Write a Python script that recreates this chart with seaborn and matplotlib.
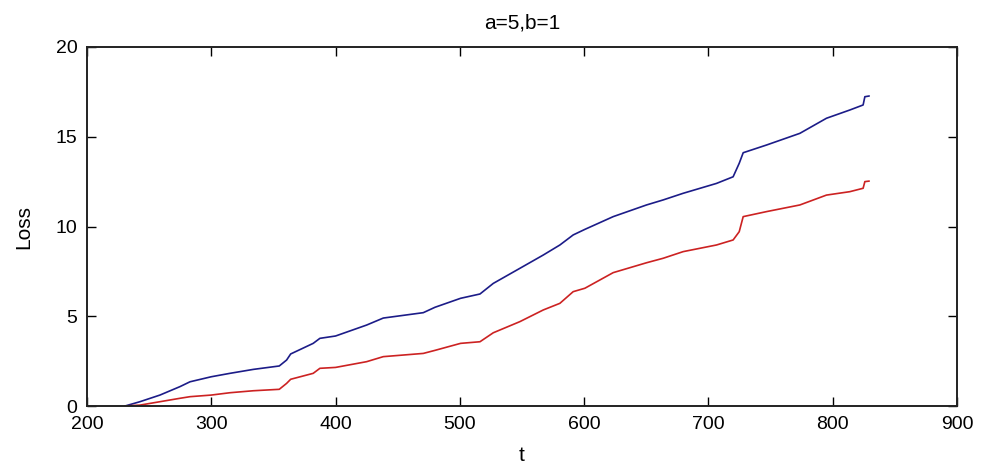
import matplotlib
matplotlib.use("Agg")
import matplotlib.pyplot as plt
import seaborn as sns
import pandas as pd

t_blue = [230.6, 242.6, 258.7, 274.8, 282.9, 300, 315, 333.8, 354.7, 360.6, 363.9, 382, 387.4, 400,
          425, 438.4, 470.6, 480, 500.6, 516.2, 526.9, 548.3, 567.1, 580.5, 591.2, 600.6, 623.4,
          650.2, 663.6, 679.7, 706.5, 719.9, 724.8, 728, 746.8, 773.6, 795, 813.8, 824.5, 825.9, 829.4]
loss_blue = [0, 0.24, 0.61, 1.08, 1.35, 1.63, 1.82, 2.04, 2.23, 2.56, 2.9, 3.49, 3.77, 3.9,
             4.51, 4.9, 5.2, 5.5, 6.0, 6.24, 6.83, 7.67, 8.41, 8.97, 9.53, 9.84, 10.55,
             11.2, 11.48, 11.85, 12.4, 12.77, 13.52, 14.11, 14.54, 15.19, 16.03, 16.49, 16.77, 17.23, 17.27]

t_red = [230.6, 242.6, 258.7, 274.8, 282.9, 300, 315, 333.8, 354.7, 360.6, 363.9, 382, 387.4, 400,
         425, 438.4, 470.6, 480, 500.6, 516.2, 526.9, 548.3, 567.1, 580.5, 591.2, 600.6, 623.4,
         650.2, 663.6, 679.7, 706.5, 719.9, 724.8, 728, 746.8, 773.6, 795, 813.8, 824.5, 825.9, 829.4]
loss_red = [0, 0.05, 0.24, 0.43, 0.52, 0.61, 0.74, 0.85, 0.93, 1.26, 1.49, 1.82, 2.1, 2.15,
            2.47, 2.75, 2.93, 3.1, 3.49, 3.58, 4.08, 4.7, 5.35, 5.72, 6.37, 6.56, 7.43,
            7.98, 8.23, 8.6, 8.97, 9.25, 9.71, 10.55, 10.83, 11.2, 11.75, 11.94, 12.13, 12.5, 12.53]

x_ticks = [200, 300, 400, 500, 600, 700, 800, 900]
y_ticks = [0, 5, 10, 15, 20]
title = "a=5,b=1"

sns.set_theme(style="ticks")
plt.rcParams['font.family'] = ['Liberation Sans', 'DejaVu Sans']
plt.rcParams['text.color'] = 'black'
plt.rcParams['axes.labelcolor'] = 'black'

fig = plt.figure(figsize=(9.83, 4.69), dpi=100)
ax = fig.add_axes([0.0885, 0.1343, 0.885, 0.7655])

df_b = pd.DataFrame({"t": t_blue, "Loss": loss_blue})
df_r = pd.DataFrame({"t": t_red, "Loss": loss_red})
sns.lineplot(data=df_b, x="t", y="Loss", ax=ax, color="#1c1c88", linewidth=1.2)
sns.lineplot(data=df_r, x="t", y="Loss", ax=ax, color="#cc2222", linewidth=1.2)

ax.set_xlim(200, 900)
ax.set_ylim(0, 20)
ax.set_xticks(x_ticks)
ax.set_yticks(y_ticks)
ax.tick_params(direction="in", length=6.5, width=1, labelsize=14, top=True, right=True,
               colors="black")
ax.tick_params(axis="x", pad=7)
ax.tick_params(axis="y", pad=7)
for s in ax.spines.values():
    s.set_visible(True)
    s.set_color("#222222")
    s.set_linewidth(1.4)
ax.set_xlabel("t", fontsize=15)
ax.set_ylabel("Loss", fontsize=15)
ax.xaxis.set_label_coords(0.5, -0.112)
ax.yaxis.set_label_coords(-0.062, 0.5)
ax.set_title(title, fontsize=15, pad=13.5, color="black")

fig.savefig("out.png", dpi=100, facecolor="white")
